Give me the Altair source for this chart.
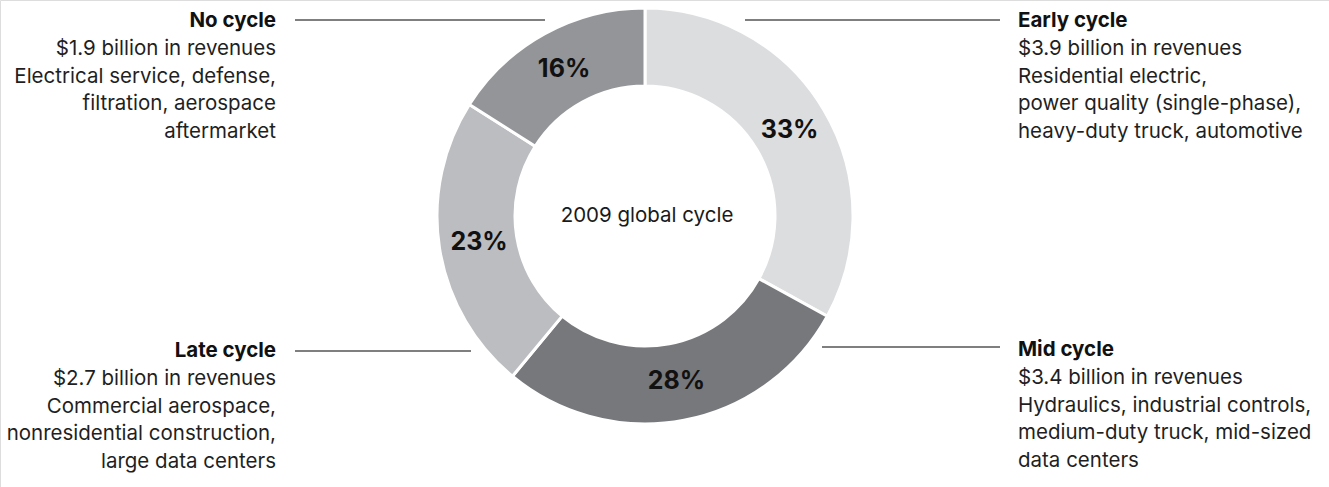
import altair as alt
import pandas as pd

# ---- data ----
segments = ["Early cycle", "Mid cycle", "Late cycle", "No cycle"]
shares = [33, 28, 23, 16]
revenues = ["$3.9 billion in revenues", "$3.4 billion in revenues",
            "$2.7 billion in revenues", "$1.9 billion in revenues"]
descriptions = [
    ["Residential electric,", "power quality (single-phase),", "heavy-duty truck, automotive"],
    ["Hydraulics, industrial controls,", "medium-duty truck, mid-sized", "data centers"],
    ["Commercial aerospace,", "nonresidential construction,", "large data centers"],
    ["Electrical service, defense,", "filtration, aerospace", "aftermarket"],
]
center_label = "2009 global cycle"
colors = ["#dcdddf", "#77787c", "#bcbdc0", "#939598"]

# ---- layout (pixels) ----
CX, CY = 645, 216
R_OUT, R_IN = 208, 130
R_LABEL = 168
LINE_H = 27.8
FONT = "Inter"
FS = 20.5
# per segment: text x, align, title y, leader x1, x2, leader y
layout = {
    "Early cycle": (1018, "left", 21, 745, 1000, 20),
    "Mid cycle": (1018, "left", 350, 822, 1000, 347),
    "Late cycle": (276, "right", 351, 295, 471, 351),
    "No cycle": (276, "right", 21, 295, 545, 20),
}

df = pd.DataFrame({
    "segment": segments,
    "share": shares,
    "label": [f"{s}%" for s in shares],
    "idx": list(range(len(segments))),
})

rows_title, rows_body, rows_rule = [], [], []
for seg, rev, desc in zip(segments, revenues, descriptions):
    tx, al, ty, x1, x2, ly = layout[seg]
    rows_title.append({"text": seg, "x": tx, "y": ty, "align": al})
    rows_body.append({"text": [rev] + desc, "x": tx, "y": ty + LINE_H, "align": al})
    rows_rule.append({"x": x1, "x2": x2, "y": ly})

titles = pd.DataFrame(rows_title)
bodies = pd.DataFrame(rows_body)
rules = pd.DataFrame(rows_rule)

base = alt.Chart(df)

arcs = base.mark_arc(radius=R_OUT, innerRadius=R_IN, stroke="white", strokeWidth=3).encode(
    theta=alt.Theta("share:Q", stack=True),
    color=alt.Color("segment:N", scale=alt.Scale(domain=segments, range=colors), legend=None),
    order=alt.Order("idx:Q"),
    x=alt.value(CX), y=alt.value(CY),
)

pct = base.mark_text(radius=R_LABEL, fontSize=25, fontWeight="bold", font=FONT,
                     color="#111111", baseline="middle", align="center").encode(
    theta=alt.Theta("share:Q", stack=True),
    text="label:N",
    order=alt.Order("idx:Q"),
    x=alt.value(CX), y=alt.value(CY),
)

center = alt.Chart(pd.DataFrame({"t": [center_label]})).mark_text(
    fontSize=FS, font=FONT, color="#1a1a1a", baseline="middle", align="center"
).encode(text="t:N", x=alt.value(CX + 2), y=alt.value(CY))

def text_layer(data, side, bold):
    d = data[data["align"] == side]
    return alt.Chart(d).mark_text(
        fontSize=FS, font=FONT, fontWeight="bold" if bold else "normal",
        color="#111111" if bold else "#1f1f1f", align=side, baseline="middle",
        lineHeight=LINE_H,
    ).encode(
        x=alt.X("x:Q", scale=None), y=alt.Y("y:Q", scale=None), text="text"
    )

layers = [
    text_layer(titles, "left", True), text_layer(titles, "right", True),
    text_layer(bodies, "left", False), text_layer(bodies, "right", False),
]

leaders = alt.Chart(rules).mark_rule(color="#555555", strokeWidth=1.3).encode(
    x=alt.X("x:Q", scale=None), x2="x2:Q", y=alt.Y("y:Q", scale=None)
)

chart = alt.layer(arcs, pct, center, leaders, *layers).properties(
    width=1329, height=487, padding=0, autosize="none"
).configure_view(stroke=None).configure(background="white")

chart.save("out.html", embed_options={"renderer": "svg", "actions": False})
